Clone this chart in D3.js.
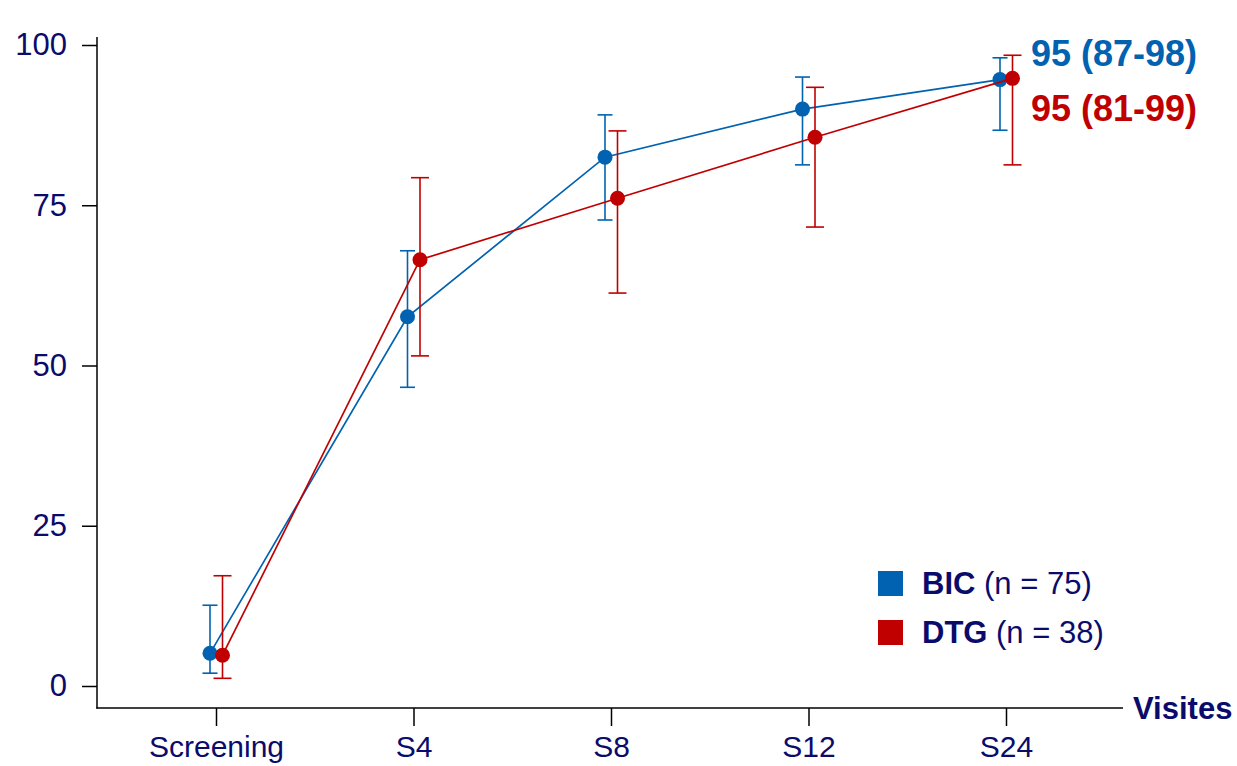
<!DOCTYPE html>
<html>
<head>
<meta charset="utf-8">
<script src="https://cdn.jsdelivr.net/npm/d3@7"></script>
<style>
  html, body { margin: 0; padding: 0; background: #fff; }
  svg { display: block; font-family: "Liberation Sans", Arial, sans-serif; }
</style>
</head>
<body>
<svg id="chart" width="1237" height="766"></svg>
<script>
const visits = ["Screening", "S4", "S8", "S12", "S24"];
const yTicks = [0, 25, 50, 75, 100];

const bicValue = [5.1, 57.6, 82.5, 90.0, 94.6];
const bicLow   = [2.0, 46.6, 72.7, 81.3, 86.7];
const bicHigh  = [12.6, 67.9, 89.1, 95.0, 98.0];

const dtgValue = [4.8, 66.5, 76.1, 85.6, 94.8];
const dtgLow   = [1.2, 51.5, 61.3, 71.6, 81.3];
const dtgHigh  = [17.2, 79.3, 86.6, 93.4, 98.4];

const seriesNames = ["BIC", "DTG"];
const seriesN = ["(n = 75)", "(n = 38)"];
const endLabels = ["95 (87-98)", "95 (81-99)"];

const BLUE = "#0062b0", RED = "#c00000", NAVY = "#0b0b6b";

const svg = d3.select("#chart");
const x = d3.scalePoint().domain(visits).range([216, 1006]);
const y = d3.scaleLinear().domain([0, 100]).range([686, 45]);

// y axis
const yAxis = d3.axisLeft(y).tickValues(yTicks).tickSize(15).tickPadding(13);
const gy = svg.append("g").attr("transform", "translate(97,0)").call(yAxis);
gy.select(".domain").remove();
gy.attr("font-size", null).attr("font-family", null);
svg.append("line").attr("x1", 97).attr("x2", 97).attr("y1", 37).attr("y2", 708.5)
  .attr("stroke", "#000").attr("stroke-width", 1.5);
gy.selectAll("line").attr("stroke", "#000").attr("stroke-width", 1.5);
gy.selectAll("text").attr("fill", NAVY).style("font-size", "31px").attr("x", -30);

// x axis
const xAxis = d3.axisBottom(x).tickSize(18).tickPadding(10);
const gx = svg.append("g").attr("transform", "translate(0,708)").call(xAxis);
gx.select(".domain").remove();
gx.attr("font-size", null).attr("font-family", null);
svg.append("line").attr("x1", 96.3).attr("x2", 1123).attr("y1", 708).attr("y2", 708)
  .attr("stroke", "#000").attr("stroke-width", 1.5);
gx.selectAll("line").attr("stroke", "#000").attr("stroke-width", 1.5);
gx.selectAll("text").attr("fill", NAVY).style("font-size", "30px");

svg.append("text").attr("x", 1133).attr("y", 719).attr("fill", NAVY)
  .attr("font-weight", "bold").style("font-size", "31px").text("Visites");

// series
const series = [
  {name: "BIC", color: BLUE, off: -6, v: bicValue, lo: bicLow, hi: bicHigh, cap: 15},
  {name: "DTG", color: RED, off: 6.5, v: dtgValue, lo: dtgLow, hi: dtgHigh, cap: 18}
];

series.forEach(s => {
  const g = svg.append("g");
  const pts = visits.map((c, i) => ({c, i, v: s.v[i], lo: s.lo[i], hi: s.hi[i]}));
  pts.forEach(p => {
    const cx = x(p.c) + s.off;
    g.append("line").attr("x1", cx).attr("x2", cx).attr("y1", y(p.lo)).attr("y2", y(p.hi))
      .attr("stroke", s.color).attr("stroke-width", 1.6);
    [p.lo, p.hi].forEach(val => {
      g.append("line").attr("x1", cx - s.cap / 2).attr("x2", cx + s.cap / 2)
        .attr("y1", y(val)).attr("y2", y(val))
        .attr("stroke", s.color).attr("stroke-width", 1.6);
    });
  });
  g.append("path").datum(pts)
    .attr("d", d3.line().x(p => x(p.c) + s.off).y(p => y(p.v)))
    .attr("fill", "none").attr("stroke", s.color).attr("stroke-width", 1.7);
  g.selectAll("circle").data(pts).join("circle")
    .attr("cx", p => x(p.c) + s.off).attr("cy", p => y(p.v)).attr("r", 7.5)
    .attr("fill", s.color);
});

// end labels
svg.append("text").attr("x", 1031).attr("y", 66).attr("fill", BLUE)
  .attr("font-weight", "bold").style("font-size", "36px").text(endLabels[0]);
svg.append("text").attr("x", 1031).attr("y", 121).attr("fill", RED)
  .attr("font-weight", "bold").style("font-size", "36px").text(endLabels[1]);

// legend
[0, 1].forEach(i => {
  const yy = 571 + i * 49;
  svg.append("rect").attr("x", 878).attr("y", yy).attr("width", 25).attr("height", 25)
    .attr("fill", series[i].color);
  const t = svg.append("text").attr("x", 922).attr("y", yy + 23).attr("fill", NAVY)
    .style("font-size", "31px");
  t.append("tspan").attr("font-weight", "bold").text(seriesNames[i]);
  t.append("tspan").text(" " + seriesN[i]);
});
</script>
</body>
</html>
